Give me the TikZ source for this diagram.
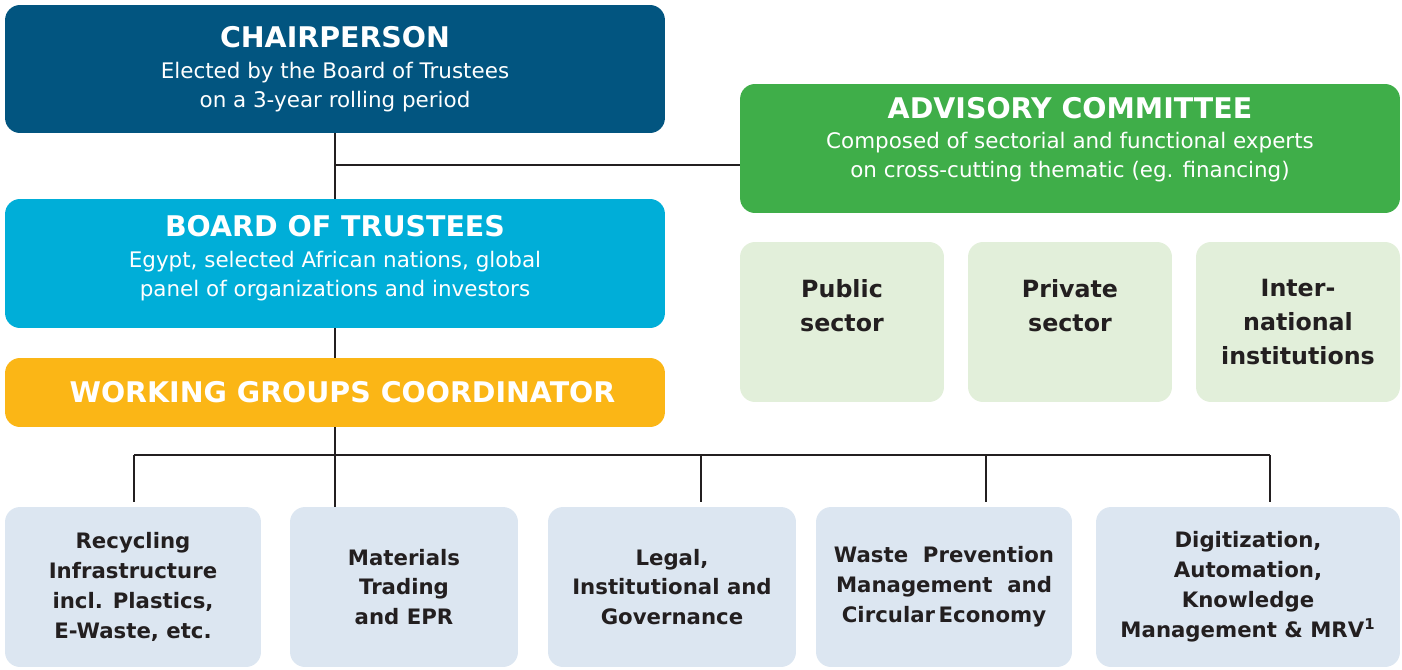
\documentclass[tikz,border=0pt]{standalone}
\usepackage{fontspec}
\setmainfont{DejaVu Sans}
\usetikzlibrary{positioning}
\definecolor{chairblue}{RGB}{2,85,128}
\definecolor{boardcyan}{RGB}{0,174,216}
\definecolor{coordorange}{RGB}{251,182,22}
\definecolor{advgreen}{RGB}{63,174,73}
\definecolor{sectorgreen}{RGB}{226,239,218}
\definecolor{groupblue}{RGB}{220,230,241}
\definecolor{inkdark}{RGB}{35,31,32}
\newcommand{\headfont}{\fontsize{16.2}{19}\selectfont\bfseries}
\newcommand{\subfont}{\fontsize{12.2}{16.5}\selectfont\mdseries}

\begin{document}
\begin{tikzpicture}
[x=0.02cm,y=-0.02cm,
topbox/.style = {rounded corners=0.3cm, minimum width=13.2cm, text=white, align=center, inner sep=0pt, font=\subfont},
sectorbox/.style = {rounded corners=0.3cm, fill=sectorgreen, minimum width=4.08cm, minimum height=3.2cm, text=inkdark, align=center, font=\fontsize{13.5}{19.3}\selectfont\bfseries, inner sep=0pt},
groupbox/.style = {rounded corners=0.3cm, fill=groupblue, minimum height=3.2cm, text=inkdark, align=center, font=\fontsize{12.1}{17}\selectfont\bfseries, inner sep=0pt},
link/.style = {draw=inkdark, line width=1.1pt},]
\useasboundingbox (0,0) rectangle (1402,669);
\node (chair) at (335,69)[topbox, fill=chairblue, minimum height=2.56cm] {{\headfont CHAIRPERSON}\\[1pt]
 Elected by the Board of Trustees\\ on a 3-year rolling period};
\node (board) at (335,263.5)[topbox, fill=boardcyan, minimum height=2.58cm] {{\headfont BOARD OF TRUSTEES}\\[1pt]
 Egypt, selected African nations, global\\ panel of organizations and investors\\[-7.5pt] \mbox{}};
\node (wgc) at (335,392.5)[topbox, fill=coordorange, minimum height=1.38cm] {\hspace*{0.3cm}\headfont WORKING GROUPS COORDINATOR};
\node (adv) at (1070,148.5)[topbox, fill=advgreen, minimum height=2.58cm] {{\headfont ADVISORY COMMITTEE}\\[1pt]
 Composed of sectorial and functional experts\\ on cross-cutting thematic (eg. financing)\\[-4pt] \mbox{}};
% advisory sectors
\node (public) at (842,322)[sectorbox] {Public\\ sector\\ \mbox{}};
\node (private) at (1070,322)[sectorbox] {Private\\ sector\\ \mbox{}};
\node (intl) at (1298,322)[sectorbox] {Inter-\\ national\\ institutions};
% working groups
\node (recycling) at (133,587)[groupbox, minimum width=5.12cm] {Recycling\\ Infrastructure\\ incl. Plastics,\\ E-Waste, etc.};
\node (materials) at (404,587)[groupbox, minimum width=4.56cm] {Materials\\ Trading\\ and EPR};
\node (legal) at (672,587)[groupbox, minimum width=4.96cm] {Legal,\\ Institutional and\\ Governance};
\node (waste) at (944,587)[groupbox, minimum width=5.12cm] {Waste~~Prevention\\ Management~~and\\ Circular\,Economy};
\node (digital) at (1248,587)[groupbox, minimum width=6.08cm] {Digitization,\\ Automation,\\ Knowledge\\ Management \& MRV\textsuperscript{1}};
\coordinate (tee) at (335,165);
\coordinate (d1) at (134,455);
\coordinate (d3) at (701,455);
\coordinate (d4) at (986,455);
\coordinate (d5) at (1270,455);
\draw[link] (chair)--(board);
\draw[link] (tee)--(tee -| adv.west);
\draw[link] (board)--(wgc);
\draw[link] (wgc)--(wgc |- materials.north);
\draw[link] (d1)--(d5);
\draw[link, shorten >=0.1cm] (d1)--(d1 |- recycling.north);
\draw[link, shorten >=0.1cm] (d3)--(d3 |- legal.north);
\draw[link, shorten >=0.1cm] (d4)--(d4 |- waste.north);
\draw[link, shorten >=0.1cm] (d5)--(d5 |- digital.north);
\end{tikzpicture}
\end{document}
